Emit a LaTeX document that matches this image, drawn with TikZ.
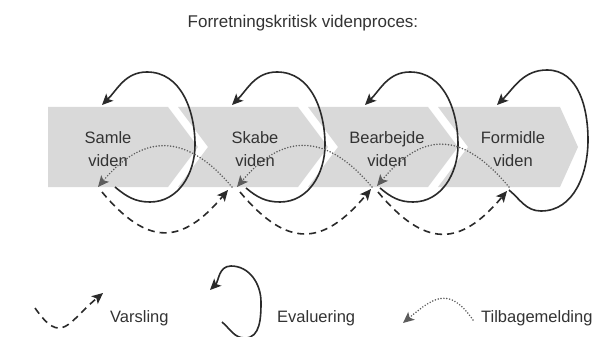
\documentclass[tikz,border=0pt]{standalone}
\usepackage{fontspec}
\setmainfont{Liberation Sans}
\usetikzlibrary{arrows.meta}
\definecolor{ink}{HTML}{2A2A2A}
\definecolor{txt}{HTML}{333333}
\definecolor{dotgray}{HTML}{5C5C5C}
\definecolor{band}{HTML}{D9D9D9}
\begin{document}
\begin{tikzpicture}[x=1pt,y=1pt,
  chev/.style={fill=band,draw=none},
  chevtext/.style={text=txt,font=\fontsize{16.5}{23}\selectfont,align=center,inner sep=0pt},
  legtext/.style={text=txt,font=\fontsize{16.5}{20}\selectfont,inner sep=0pt,anchor=base west},
  tip/.style={-{Stealth[length=11pt,width=10pt,inset=2.5pt]}},
  evalloop/.style={draw=ink,line width=1.6pt,tip},
  warnarc/.style={draw=ink,line width=1.6pt,dash pattern=on 7pt off 5pt,tip},
  feedarc/.style={draw=dotgray,line width=1.7pt,dash pattern=on 0pt off 2.9pt,line cap=round,tip},
]
\useasboundingbox (0,0) rectangle (606,-337);
\fill[white] (0,0) rectangle (606,-337);
\clip (0,0) rectangle (606,-337);

% title
\node[text=txt,font=\fontsize{17}{20}\selectfont,inner sep=0pt] (title) at (303,-23) {Forretningskritisk videnproces:};

% process band of chevrons
\fill[chev] (48,-107) -- (168,-107) -- (198,-147) -- (168,-187) -- (48,-187) -- cycle;
\fill[chev] (178,-107) -- (298,-107) -- (328,-147) -- (298,-187) -- (178,-187) -- (208,-147) -- cycle;
\fill[chev] (308,-107) -- (428,-107) -- (458,-147) -- (428,-187) -- (308,-187) -- (338,-147) -- cycle;
\fill[chev] (438,-107) -- (560,-107) -- (578,-147) -- (560,-187) -- (438,-187) -- (468,-147) -- cycle;

\node[chevtext] (c1) at (108,-149.5) {Samle\\viden};
\node[chevtext] (c2) at (255,-149.5) {Skabe\\viden};
\node[chevtext] (c3) at (387,-149.5) {Bearbejde\\viden};
\node[chevtext] (c4) at (513,-149.5) {Formidle\\viden};

% connection points under each step
\coordinate (fb1) at (98,-187);
\coordinate (out1) at (102,-192);
\coordinate (lp1) at (115,-187);
\coordinate (in2) at (228,-190);
\coordinate (src2) at (232,-187);
\coordinate (fb2) at (237,-187);
\coordinate (out2) at (240,-192);
\coordinate (lp2) at (246,-188);
\coordinate (in3) at (371,-189);
\coordinate (src3) at (372,-187);
\coordinate (fb3) at (377,-186);
\coordinate (out3) at (378,-192);
\coordinate (lp3) at (380,-188);
\coordinate (in4) at (507,-191);
\coordinate (src4) at (509,-187);
\coordinate (lp4) at (509,-190);

% loop tips
\coordinate (le1) at (102,-105);
\coordinate (le2) at (232,-105);
\coordinate (le3) at (365,-105);
\coordinate (le4) at (497,-105);

% evaluation loops
\draw[evalloop] (lp1) to[out=-40,in=180] (150,-202) to[out=0,in=-90] (195,-145)
  to[out=90,in=0] (147,-72) to[out=180,in=45] (le1);
\draw[evalloop] (lp2) to[out=-40,in=180] (280,-202) to[out=0,in=-90] (325,-145)
  to[out=90,in=0] (277,-72) to[out=180,in=45] (le2);
\draw[evalloop] (lp3) to[out=-40,in=180] (413,-202) to[out=0,in=-90] (458,-145)
  to[out=90,in=0] (410,-72) to[out=180,in=45] (le3);
\draw[evalloop] (lp4) to[out=-40,in=180] (541,-211) to[out=0,in=-90] (588,-140)
  to[out=90,in=0] (547,-70) to[out=180,in=45] (le4);

% feedback arcs
\draw[feedarc] (src2) to[out=130,in=50,looseness=1.35] (fb1);
\draw[feedarc] (src3) to[out=130,in=50,looseness=1.35] (fb2);
\draw[feedarc] (src4) to[out=130,in=50,looseness=1.4] (fb3);

% warning arcs
\draw[warnarc] (out1) to[out=-50,in=-130,looseness=1.45] (in2);
\draw[warnarc] (out2) to[out=-50,in=-130,looseness=1.45] (in3);
\draw[warnarc] (out3) to[out=-50,in=-130,looseness=1.45] (in4);

% legend
\coordinate (vs) at (35,-308);
\coordinate (ve) at (103,-293);
\draw[warnarc] (vs) to[out=-55,in=-140,looseness=1.7] (ve);
\node[legtext] (lv) at (110,-322) {Varsling};

\coordinate (es) at (222,-322);
\coordinate (ee) at (210,-290);
\draw[evalloop] (es) to[out=-40,in=180] (245,-338) to[out=0,in=-90] (261,-302)
  to[out=90,in=0] (231,-266) to[out=180,in=45] (ee);
\node[legtext] (le) at (277,-322) {Evaluering};

\coordinate (ts) at (473,-320);
\coordinate (te) at (403,-323);
\draw[feedarc] (ts) to[out=125,in=40,looseness=1.5] (te);
\node[legtext] (lt) at (481,-322) {Tilbagemelding};
\end{tikzpicture}
\end{document}
